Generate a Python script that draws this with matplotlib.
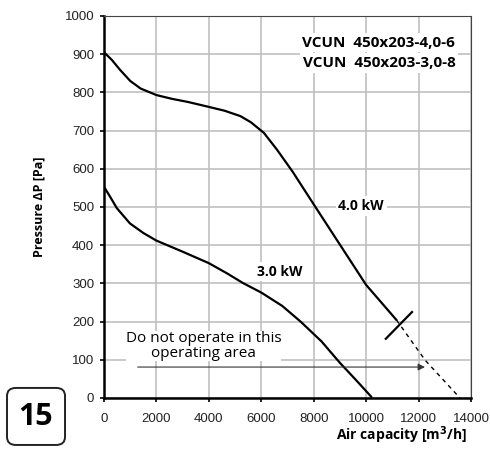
import matplotlib.pyplot as plt
from matplotlib.patches import FancyBboxPatch

# 4.0 kW curve
flow_4 = [0, 300, 600, 1000, 1400, 2000, 2600, 3200, 4000, 4600, 5200, 5600, 6100, 6600, 7200, 8000, 8900, 10000, 11160]
dp_4 = [905, 885, 860, 830, 810, 793, 783, 775, 762, 752, 738, 722, 694, 650, 592, 507, 412, 296, 204]
# extension (do not operate)
flow_4x = [11160, 12250, 13580]
dp_4x = [204, 99, 0]

# 3.0 kW curve
flow_3 = [0, 250, 490, 990, 1500, 2000, 3000, 4000, 4700, 5300, 6000, 6800, 7500, 8300, 9000, 9600, 10200]
dp_3 = [553, 525, 497, 457, 432, 412, 383, 353, 326, 301, 276, 241, 200, 148, 92, 48, 3]

x_ticks = list(range(0, 14001, 2000))
y_ticks = list(range(0, 1001, 100))

fig = plt.figure(figsize=(4.9, 4.49), dpi=100)
ax = fig.add_axes([0.2122, 0.1136, 0.749, 0.8508])

ax.plot(flow_4, dp_4, color='black', lw=1.6, solid_capstyle='round')
ax.plot(flow_3, dp_3, color='black', lw=1.6, solid_capstyle='round')
ax.plot(flow_4x, dp_4x, color='black', lw=1.0, ls=(0, (3, 3)))
# end marker
ax.plot([10750, 11750], [155, 225], color='black', lw=1.6)

ax.set_xlim(0, 14000)
ax.set_ylim(0, 1000)
ax.set_xticks(x_ticks)
ax.set_yticks(y_ticks)
ax.grid(True, color='#c0c0c0', lw=1.2)
ax.set_axisbelow(True)
for t in ax.get_xticklabels() + ax.get_yticklabels():
    t.set_fontfamily('Liberation Sans')
    t.set_fontsize(9.5)
    t.set_color('#222222')
ax.tick_params(length=3, width=1.2, color='black', pad=4)
ax.tick_params(axis='x', pad=8)
ax.spines['left'].set_linewidth(1.8)
ax.spines['bottom'].set_linewidth(1.8)
ax.spines['top'].set_color('#444444')
ax.spines['right'].set_color('#444444')

ax.set_ylabel('Pressure ΔP [Pa]', fontfamily='Open Sans', fontweight='bold', fontsize=9, labelpad=14)
fig.text(0.953, 0.03, 'Air capacity [m$^\\mathbf{3}$/h]', ha='right', va='center',
         fontfamily='Open Sans', fontweight='bold', fontsize=10)

box = dict(facecolor='white', edgecolor='none', pad=2)
ax.text(13400, 930, 'VCUN  450x203-4,0-6', ha='right', va='center', fontfamily='Open Sans',
        fontweight='bold', fontsize=11, bbox=box)
ax.text(13400, 877, 'VCUN  450x203-3,0-8', ha='right', va='center', fontfamily='Open Sans',
        fontweight='bold', fontsize=11, bbox=box)
ax.text(9810, 502, '4.0 kW', ha='center', va='center', fontfamily='Open Sans',
        fontweight='bold', fontsize=10, bbox=box)
ax.text(6700, 331, '3.0 kW', ha='center', va='center', fontfamily='Open Sans',
        fontweight='bold', fontsize=10, bbox=box)

ax.text(3790, 137, 'Do not operate in this\noperating area', ha='center', va='center',
        fontfamily='Open Sans', fontsize=11, linespacing=1.0,
        bbox=dict(facecolor='white', edgecolor='none', pad=0))
ax.annotate('', xy=(12350, 81), xytext=(1180, 81),
            arrowprops=dict(arrowstyle='-|>', color='#333333', lw=0.8, mutation_scale=10))

fig.patches.append(FancyBboxPatch((0.0143, 0.009), 0.1184, 0.127, boxstyle='round,pad=0,rounding_size=0.018',
                                  transform=fig.transFigure, facecolor='white', edgecolor='#222222', lw=1.4))
fig.text(0.0735, 0.071, '15', ha='center', va='center', fontfamily='Open Sans', fontweight='bold', fontsize=22)

fig.savefig('out.png', dpi=100)
